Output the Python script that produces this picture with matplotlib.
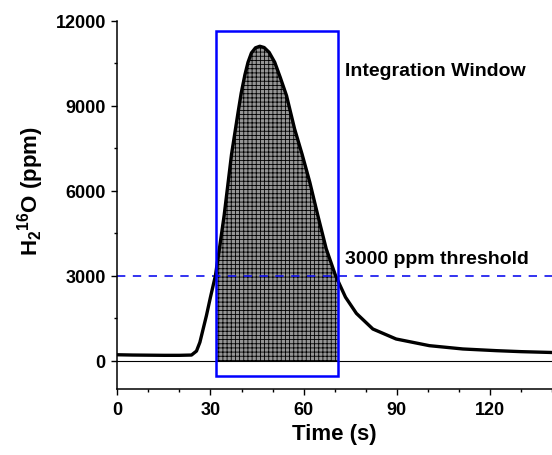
import numpy as np
import matplotlib
matplotlib.use('Agg')
import matplotlib.pyplot as plt
from matplotlib.patches import Rectangle

plt.rcParams['font.family'] = ['Liberation Sans', 'DejaVu Sans']
plt.rcParams['font.weight'] = 'bold'
plt.rcParams['mathtext.default'] = 'regular'
plt.rcParams['hatch.linewidth'] = 0.6

# H2(16)O trace
time_s = [0, 5, 10, 15, 20, 23.9, 25.5, 26.6, 28.7, 30, 31.6, 33, 34.4, 36.8,
          38.9, 39.9, 41.1, 42.1, 43.2, 44.5, 45.9, 47.3, 48.9, 50.7, 52.5,
          54.5, 57.1, 59.5, 62, 64.6, 67.3, 70.3, 73.5, 77, 82.3, 89.8,
          100.5, 111.3, 122, 130, 140]
h2o_ppm = [220, 210, 205, 200, 200, 210, 350, 660, 1600, 2250, 3010, 4050,
           5128, 7300, 8776, 9450, 10100, 10540, 10870, 11050, 11105, 11060,
           10890, 10540, 10000, 9363, 8188, 7300, 6306, 5128, 3953, 3010,
           2250, 1680, 1129, 776, 541, 424, 365, 330, 300]

threshold = 3000
window = (31.8, 71.0)
window_y = (-520, 11650)

t = np.array(time_s)
v = np.array(h2o_ppm)

fig = plt.figure(figsize=(5.52, 4.56), dpi=100)
ax = fig.add_axes([0.2125, 0.144, 0.7875, 0.808])

# shaded integral inside window
inside = (t > window[0]) & (t < window[1])
tf = np.concatenate([[window[0]], t[inside], [window[1]]])
vf = np.concatenate([[np.interp(window[0], t, v)], v[inside], [np.interp(window[1], t, v)]])
ax.fill_between(tf, 0, vf, facecolor='#959595', edgecolor='black', hatch='++++', linewidth=0)

ax.axhline(0, color='black', lw=0.8)
ax.axhline(threshold, color='#1010ee', lw=1.2, linestyle=(0, (5, 4.5)))
ax.plot(t, v, color='black', lw=2.4, solid_capstyle='round', solid_joinstyle='round', zorder=4)

ax.add_patch(Rectangle((window[0], window_y[0]), window[1] - window[0],
                       window_y[1] - window_y[0], fill=False,
                       edgecolor='#0000ff', lw=1.8, zorder=5))

ax.text(73.2, 10235, 'Integration Window', fontsize=14, fontweight='bold', va='center')
ax.text(73.2, 3600, '3000 ppm threshold', fontsize=14, fontweight='bold', va='center')

ax.set_xlim(0, 140)
ax.set_ylim(-1000, 12000)
ax.set_xticks([0, 30, 60, 90, 120])
ax.set_xticks(np.arange(0, 141, 10), minor=True)
ax.set_yticks([0, 3000, 6000, 9000, 12000])
ax.set_yticks([1500, 4500, 7500, 10500], minor=True)

for s in ['top', 'right']:
    ax.spines[s].set_visible(False)
for s in ['left', 'bottom']:
    ax.spines[s].set_linewidth(1.1)

ax.tick_params(which='major', length=4.3, width=1, pad=4, labelsize=13)
ax.tick_params(which='minor', length=2.4, width=1)

ax.set_xlabel('Time (s)', fontsize=16, fontweight='bold')
ax.set_ylabel('H$_2$$^{16}$O (ppm)', fontsize=16, fontweight='bold')
ax.yaxis.set_label_coords(-0.165, 0.54)

fig.savefig('out.png', dpi=100)
